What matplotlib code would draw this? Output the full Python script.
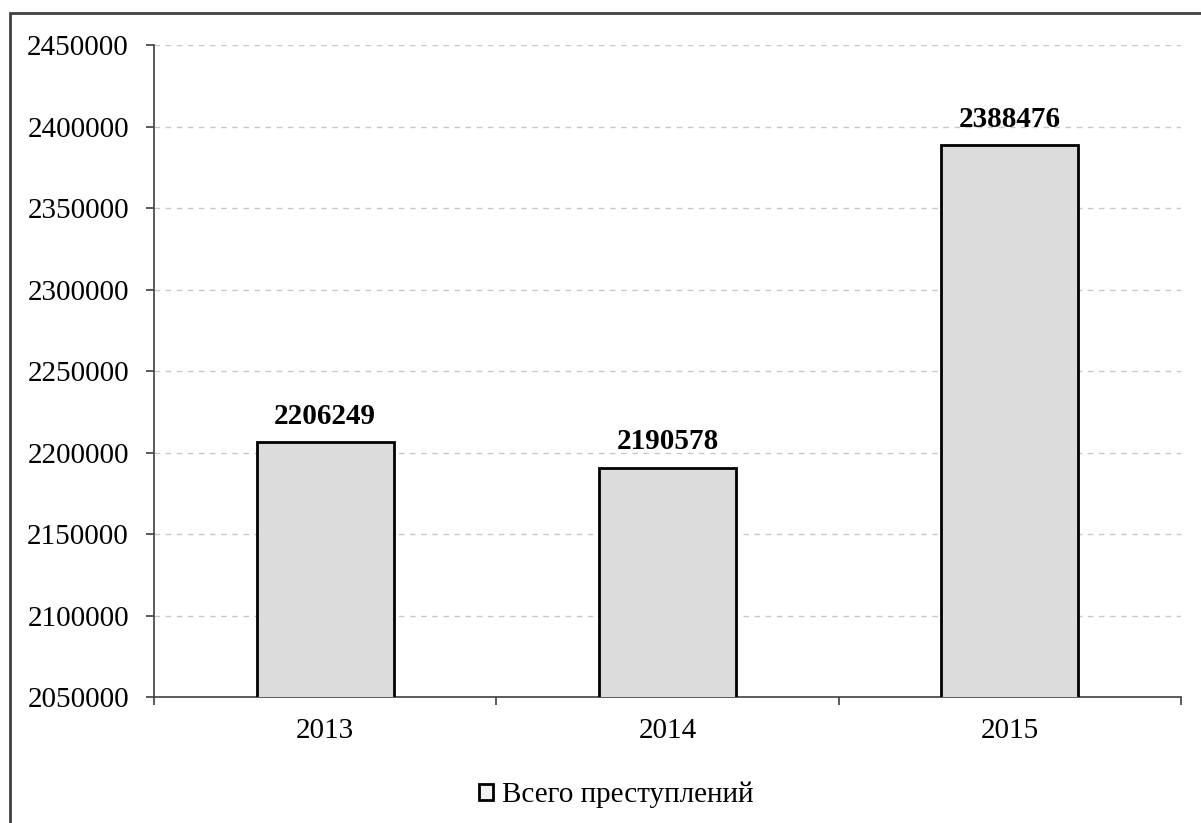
import matplotlib.pyplot as plt
from matplotlib.patches import Rectangle
from matplotlib.ticker import FixedLocator

# data
years = ["2013", "2014", "2015"]
crimes = [2206249, 2190578, 2388476]
series_name = "Всего преступлений"
y_ticks = list(range(2050000, 2450001, 50000))

plt.rcParams['font.family'] = ['Liberation Serif', 'DejaVu Serif']

fig = plt.figure(figsize=(12.01, 8.23), dpi=100)
ax = fig.add_axes([0.1282, 0.1531, 0.8552, 0.7922])

x = range(len(years))
bars = ax.bar(x, crimes, width=0.4, color='#dcdcdc', edgecolor='black',
              linewidth=2, label=series_name, zorder=3)

# value labels above bars
for xi, v in zip(x, crimes):
    ax.annotate(str(v), (xi, v), xytext=(0, 9), textcoords='offset points',
                ha='center', va='bottom', fontsize=21, fontweight='bold')

ax.set_ylim(2050000, 2450000)
ax.set_xlim(-0.5, len(years) - 0.5)
ax.set_yticks(y_ticks)
ax.set_yticklabels([str(t) for t in y_ticks])
ax.set_xticks(list(x))
ax.set_xticklabels(years)
ax.xaxis.set_minor_locator(FixedLocator([-0.5, 0.5, 1.5, 2.5]))

ax.tick_params(axis='y', labelsize=21, length=6, width=1.2, pad=12, color='#404040')
ax.tick_params(axis='x', which='major', labelsize=21, length=0, pad=15)
ax.tick_params(axis='x', which='minor', length=6, width=1.2, color='#404040')

ax.yaxis.grid(True, linestyle=(0, (4, 4)), color='#c8c8c8', linewidth=1, zorder=0)
ax.set_axisbelow(True)

for side in ['top', 'right']:
    ax.spines[side].set_visible(False)
for side in ['left', 'bottom']:
    ax.spines[side].set_color('#404040')
    ax.spines[side].set_linewidth(1.2)

leg = fig.legend(handles=[bars], labels=[series_name], loc='center',
                 bbox_to_anchor=(0.513, 0.034), frameon=False, fontsize=21,
                 handlelength=0.5, handleheight=0.5, handletextpad=0.3)
leg.legend_handles[0].set_facecolor('#f2f2f2')

# outer frame of the chart area
fig.patches.append(Rectangle((10 / 1201, -0.1), 1.2, 1 - 13 / 823 + 0.1,
                             transform=fig.transFigure, fill=False,
                             edgecolor='#404040', linewidth=2))

fig.savefig("out.png", dpi=100)
